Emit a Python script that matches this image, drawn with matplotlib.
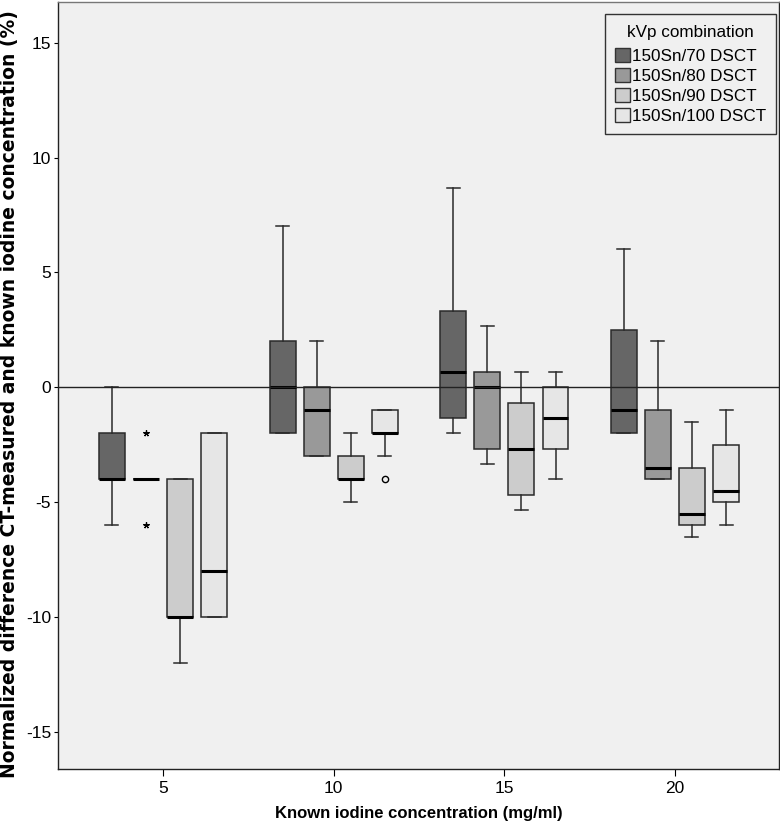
import matplotlib
matplotlib.use("Agg")
import matplotlib.pyplot as plt
from matplotlib.patches import Patch

plt.rcParams['font.family'] = ['Liberation Sans', 'DejaVu Sans']
plt.rcParams['axes.unicode_minus'] = False

# known iodine concentration groups (mg/ml)
groups = ["5", "10", "15", "20"]
series = ["150Sn/70 DSCT", "150Sn/80 DSCT", "150Sn/90 DSCT", "150Sn/100 DSCT"]
colors = ["#666666", "#999999", "#cccccc", "#e6e6e6"]

# box statistics per series, one value per group (5, 10, 15, 20)
lo_70 = [-6, -2, -2, -2]
q1_70 = [-4, -2, -1.33, -2]
med_70 = [-4, 0, 0.67, -1]
q3_70 = [-2, 2, 3.33, 2.5]
hi_70 = [0, 7, 8.67, 6]

lo_80 = [-4, -3, -3.33, -4]
q1_80 = [-4, -3, -2.67, -4]
med_80 = [-4, -1, 0, -3.5]
q3_80 = [-4, 0, 0.67, -1]
hi_80 = [-4, 2, 2.67, 2]

lo_90 = [-12, -5, -5.33, -6.5]
q1_90 = [-10, -4, -4.67, -6]
med_90 = [-10, -4, -2.67, -5.5]
q3_90 = [-4, -3, -0.67, -3.5]
hi_90 = [-4, -2, 0.67, -1.5]

lo_100 = [-10, -3, -4, -6]
q1_100 = [-10, -2, -2.67, -5]
med_100 = [-8, -2, -1.33, -4.5]
q3_100 = [-2, -1, 0, -2.5]
hi_100 = [-2, -1, 0.67, -1]

# outliers: (series index, group index, value)
extremes = [(1, 0, -2), (1, 0, -6)]      # drawn as *
outliers = [(3, 1, -4)]                  # drawn as o

stats_by_series = [
    (lo_70, q1_70, med_70, q3_70, hi_70),
    (lo_80, q1_80, med_80, q3_80, hi_80),
    (lo_90, q1_90, med_90, q3_90, hi_90),
    (lo_100, q1_100, med_100, q3_100, hi_100),
]

fig = plt.figure(figsize=(7.8, 8.3), dpi=100)
ax = fig.add_axes([0.0744, 0.0735, 0.9243, 0.924])
ax.set_facecolor("#f0f0f0")

offsets = [-0.3, -0.1, 0.1, 0.3]
width = 0.152
edge = "#2a2a2a"

for s, (lo, q1, med, q3, hi) in enumerate(stats_by_series):
    bstats = []
    pos = []
    for g in range(len(groups)):
        bstats.append(dict(whislo=lo[g], q1=q1[g], med=med[g], q3=q3[g],
                           whishi=hi[g], fliers=[]))
        pos.append(g + offsets[s])
    ax.bxp(bstats, positions=pos, widths=width, patch_artist=True,
           showfliers=False, manage_ticks=False,
           boxprops=dict(facecolor=colors[s], edgecolor=edge, linewidth=1.1),
           medianprops=dict(color="black", linewidth=2.2),
           whiskerprops=dict(color=edge, linewidth=1.1),
           capprops=dict(color=edge, linewidth=1.1),
           capwidths=width / 2)

for s, g, v in extremes:
    ax.plot(g + offsets[s], v, marker=(5, 2, 0), color="black",
            markersize=4.5, markeredgewidth=0.9, zorder=6)
for s, g, v in outliers:
    ax.plot(g + offsets[s], v, marker="o", markerfacecolor="none",
            markeredgecolor="black", markersize=4.5, markeredgewidth=1, zorder=6)

ax.axhline(0, color="#222222", linewidth=1, zorder=5)

ax.set_xlim(-0.616, 3.61)
ax.set_ylim(-16.62, 16.77)
ax.set_xticks(range(len(groups)))
ax.set_xticklabels(groups)
ax.set_yticks([-15, -10, -5, 0, 5, 10, 15])
ax.tick_params(axis="both", labelsize=12.5, direction="out", color="black")
ax.tick_params(axis="x", length=5, pad=4)
ax.tick_params(axis="y", length=3, pad=2)
for sp in ax.spines.values():
    sp.set_color("#222222")
    sp.set_linewidth(1)
ax.spines["top"].set_color("#777777")

ax.set_xlabel("Known iodine concentration (mg/ml)", fontsize=12,
              fontweight="bold", labelpad=7)
fig.text(0.012, 0.525,
         "Normalized difference CT-measured and known iodine concentration (%)",
         rotation=90, ha="center", va="center", fontsize=13.5,
         fontweight="bold", family="DejaVu Sans")

handles = [Patch(facecolor=c, edgecolor="#333333", linewidth=1) for c in colors]
leg = ax.legend(handles, series, title="kVp combination", loc="upper right",
                bbox_to_anchor=(0.996, 0.984), borderaxespad=0,
                fontsize=12.3, title_fontsize=12.3, handlelength=0.85,
                handleheight=0.85, handletextpad=0.12, labelspacing=0.25,
                borderpad=0.6, fancybox=False, framealpha=1)
leg._legend_box.sep = 6  # a bit more room under the title
leg.get_frame().set_facecolor("#f0f0f0")
leg.get_frame().set_edgecolor("#333333")
leg.get_frame().set_linewidth(1)

fig.savefig("out.png", dpi=100)
